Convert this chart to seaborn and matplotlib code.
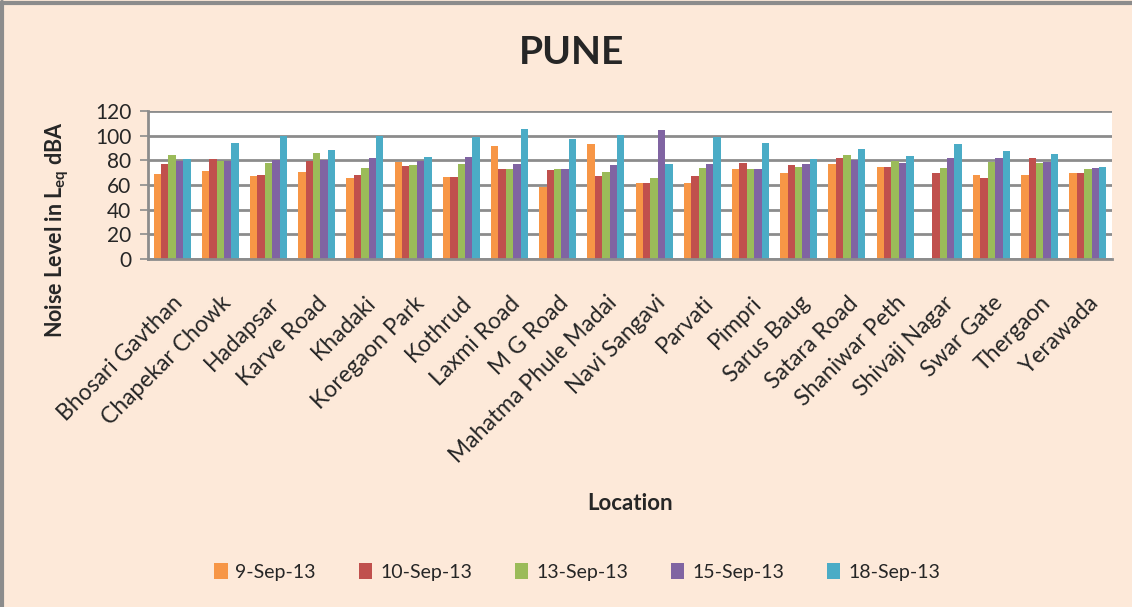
import pandas as pd
import numpy as np
import matplotlib
matplotlib.use("Agg")
import matplotlib.pyplot as plt
import seaborn as sns

# Locations on the x axis
locations = ["Bhosari Gavthan", "Chapekar Chowk", "Hadapsar", "Karve Road", "Khadaki",
             "Koregaon Park", "Kothrud", "Laxmi Road", "M G Road", "Mahatma Phule Madai",
             "Navi Sangavi", "Parvati", "Pimpri", "Sarus Baug", "Satara Road",
             "Shaniwar Peth", "Shivaji Nagar", "Swar Gate", "Thergaon", "Yerawada"]

dates = ["9-Sep-13", "10-Sep-13", "13-Sep-13", "15-Sep-13", "18-Sep-13"]

# Leq dBA readings, one list per date
sep09 = [69, 71, 67, 70.2, 65.6, 78.3, 66.1, 91.6, 58.3, 93.5,
         62, 62, 72.6, 69.6, 76.7, 74.8, np.nan, 68.3, 68, 69.6]
sep10 = [77, 80.8, 67.8, 79.7, 67.8, 75.3, 66.4, 72.6, 71.8, 67,
         62, 67.5, 78, 75.9, 82.1, 74.5, 69.9, 65.9, 82.1, 69.6]
sep13 = [84.5, 79.7, 77.5, 85.6, 73.7, 76.2, 77, 72.6, 72.6, 70.2,
         65.3, 73.4, 72.6, 75, 84.6, 79.4, 74, 78.6, 77.5, 72.6]
sep15 = [79.7, 79.7, 80, 80.5, 81.6, 79.7, 82.7, 77.2, 73.2, 75.9,
         104.9, 77.2, 72.6, 77, 80.2, 78, 82.1, 81.6, 78.6, 73.7]
sep18 = [81.3, 93.8, 99.7, 88, 99.7, 82.4, 98.9, 105.7, 97, 100.3,
         76.7, 98.9, 94.3, 80.8, 89.4, 83.2, 93.5, 87.3, 85.4, 74.8]

colors = ["#F79646", "#C0504D", "#9BBB59", "#8064A2", "#4BACC6"]
bg = "#FDE9D9"
grid_gray = "#8C8C8C"

df = pd.DataFrame({"Location": locations, dates[0]: sep09, dates[1]: sep10,
                   dates[2]: sep13, dates[3]: sep15, dates[4]: sep18})
long_df = df.melt(id_vars="Location", var_name="Date", value_name="Leq")

sns.set_style("white")
plt.rcParams["font.family"] = ["Lato", "DejaVu Sans"]
plt.rcParams["mathtext.default"] = "regular"

fig = plt.figure(figsize=(11.32, 6.07), dpi=100, facecolor=bg)
ax = fig.add_axes([148 / 1132, 1 - 259 / 607, 964 / 1132, 148 / 607])

sns.barplot(data=long_df, x="Location", y="Leq", hue="Date", hue_order=dates,
            order=locations, palette=colors, width=0.77, saturation=1,
            edgecolor="none", ax=ax, legend=True)

ax.set_facecolor("white")
ax.set_ylim(0, 120)
ax.set_yticks(range(0, 121, 20))
ax.set_xlim(-0.5, len(locations) - 0.5)
ax.yaxis.grid(True, color=grid_gray, linewidth=2)
ax.set_axisbelow(True)
for s in ["top", "right"]:
    ax.spines[s].set_visible(False)
for s in ["left", "bottom"]:
    ax.spines[s].set_color(grid_gray)
    ax.spines[s].set_linewidth(2)
ax.tick_params(axis="y", length=6, width=1.2, color=grid_gray, labelsize=15, pad=6, left=True)
ax.tick_params(axis="x", length=0, labelsize=16.5, pad=24)
ax.set_xticks(range(len(locations)))
ax.set_xticklabels(locations, rotation=45, ha="right", rotation_mode="anchor")

ax.set_xlabel("")
ax.set_ylabel("")
fig.text(630 / 1132, 1 - 503 / 607, "Location", ha="center", va="center",
         fontsize=16, fontweight="bold")
fig.text(57 / 1132, 1 - 230 / 607, r"Noise Level in L$_{eq}$ dBA", ha="center",
         va="center", rotation=90, fontsize=15.5, fontweight="bold")
fig.text(572 / 1132, 1 - 52 / 607, "PUNE", ha="center", va="center",
         fontsize=28, fontweight="bold")

handles, labels = ax.get_legend_handles_labels()
ax.get_legend().remove()
fig.legend(handles, labels, loc="center", bbox_to_anchor=(577 / 1132, 1 - 572 / 607),
           ncol=5, frameon=False, fontsize=14, handlelength=0.7, handleheight=0.9,
           handletextpad=0.4, columnspacing=2.2)

# outer border on top and left
fig.add_artist(plt.Line2D([0.002, 0.002], [0, 0.997], color=grid_gray, lw=3,
                          transform=fig.transFigure))
fig.add_artist(plt.Line2D([0, 1], [0.995, 0.995], color=grid_gray, lw=3,
                          transform=fig.transFigure))

fig.savefig("out.png", dpi=100, facecolor=bg)
